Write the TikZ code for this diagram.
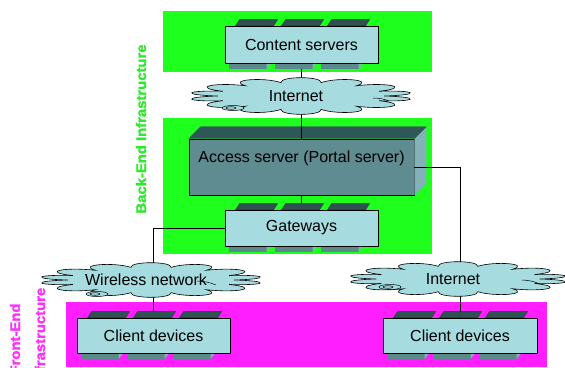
\documentclass[tikz,border=0pt]{standalone}
\usepackage{fontspec}
\setmainfont{Liberation Sans}
\newfontfamily\heavylabel[BoldFeatures={FakeBold=1.6}]{Liberation Sans}
\usetikzlibrary{calc}
\definecolor{grn}{HTML}{1EFF1E}
\definecolor{mag}{HTML}{FF1EFF}
\definecolor{boxfill}{HTML}{A6DCE0}
\definecolor{slabdark}{HTML}{2E5252}
\definecolor{slabgrey}{HTML}{5C8A8A}
\definecolor{slablight}{HTML}{86B4B4}
\definecolor{asfront}{HTML}{5F8C90}
\definecolor{astop}{HTML}{2F5757}
\definecolor{asside}{HTML}{82B2B8}
\definecolor{glabel}{HTML}{2EE82E}
\definecolor{mlabel}{HTML}{FF2EFF}
\tikzset{
  srvbox/.style={draw=black, line width=0.8pt, fill=boxfill, minimum width=153pt,
    minimum height=36pt, inner sep=0pt, font=\fontsize{16}{19}\selectfont},
  cloudtext/.style={inner sep=0pt, font=\fontsize{16}{19}\selectfont},
  cloudline/.style={draw=black, line width=0.6pt, fill=boxfill},
  link/.style={draw=black, line width=0.8pt},
  swirl/.style={draw=black, line width=0.5pt, fill=boxfill},
  vlabel/.style={rotate=90, inner sep=0pt, font=\heavylabel\fontsize{14}{15}\selectfont\bfseries}
}
\newcommand\slabdeco[1]{%
  \foreach \i in {0,1,2}{%
    \filldraw[fill=slabdark, draw=slabdark!60!black, line width=0.4pt]
      ($(#1.north west)+(11+46*\i,0)$) -- ++(4,-6) -- ++(38,0) -- ++(-4,6) -- cycle;
    \fill[slabgrey] ($(#1.south west)+(4+46*\i,0.5)$) rectangle ++(38,5);
    \fill[slablight] ($(#1.south west)+(42+46*\i,0.5)$) -- ++(4,0) -- ++(-4,5) -- cycle;
  }%
}
% cloud outline: center x, center y, half width, half height
\newcommand\cloudoutline[4]{%
  \begin{scope}[shift={(#1,#2)}, xscale=#3/1.04, yscale=#4/1.04]
    \path[cloudline] (0:0.8)
      \foreach \a/\b in {0/20,20/48,48/76,76/104,104/132,132/160,160/180,180/200,200/228,228/256,256/284,284/312,312/340,340/360}
        { .. controls ({\a+0.15*(\b-\a)}:1.17) and ({\b-0.15*(\b-\a)}:1.17) .. (\b:0.8) } -- cycle;
  \end{scope}%
}
\begin{document}
\begin{tikzpicture}[x=1pt,y=-1pt]
\useasboundingbox (0,0) rectangle (565,367);
\clip (0,0) rectangle (565,367);
\fill[white] (0,0) rectangle (565,367);
% zones
\fill[grn] (163,11) rectangle (432,72);
\fill[grn] (163,118) rectangle (432,254);
\fill[mag] (66,302) rectangle (547,367);
% vertical labels
\node[vlabel, text=glabel] (belabel) at (141,129) {\scalebox{1.06}[1]{Back-End Infrastructure}};
\node[vlabel, text=mlabel] (felabel1) at (15,339) {\scalebox{1.06}[1]{Front-End}};
\node[vlabel, text=mlabel] (felabel2) at (40,336) {\scalebox{1.06}[1]{Infrastructure}};
% boxes
\node[srvbox, minimum height=37pt] (cs) at (301.5,44.5) {Content servers};
\node[draw=black, line width=0.6pt, fill=asfront, minimum width=225pt, minimum height=56pt,
      inner sep=0pt, text depth=21pt, font=\fontsize{16}{19}\selectfont] (as) at (301.5,167)
      {Access server (Portal server)};
\fill[astop] (as.north west) -- ++(12,-12) -- ($(as.north east)+(12,-12)$) -- (as.north east) -- cycle;
\fill[asside] (as.north east) -- ++(12,-12) -- ($(as.south east)+(12,-12)$) -- (as.south east) -- cycle;
\draw[line width=0.4pt, astop] (as.north west) -- ++(12,-12) -- ($(as.north east)+(12,-12)$) -- (as.north east);
\node[srvbox] (gw) at (301.5,228) {Gateways};
\node[srvbox, minimum height=35pt] (cl) at (153.5,335.5) {Client devices};
\node[srvbox, minimum height=35pt, minimum width=154pt] (cr) at (460,335.5) {Client devices};
% connectors
\draw[link] (cs.south) -- (as.north);
\draw[link] (as.south) -- (gw.north);
\draw[link] (gw.west) -| (cl.north);
\draw[link] (as.east) -| (cr.north);
% slab decorations
\slabdeco{cs}
\slabdeco{gw}
\slabdeco{cl}
\slabdeco{cr}
% clouds
\cloudoutline{301}{96}{108}{18}
\cloudoutline{151}{280}{108}{17}
\cloudoutline{458}{279}{106}{17}
\node[cloudtext] (inet1) at (296,96) {Internet};
\node[cloudtext] (wl) at (146,280) {Wireless network};
\node[cloudtext] (inet2) at (453,279) {Internet};
\draw[swirl] (233,108) ellipse (11 and 2.5);
\draw[swirl] (231,108) ellipse (5 and 1.3);
\draw[swirl] (97,294) ellipse (11 and 2.5);
\draw[swirl] (95,294) ellipse (5 and 1.3);
\draw[swirl] (390,287) ellipse (11 and 2.5);
\draw[swirl] (388,287) ellipse (5 and 1.3);
\draw[line width=0.5pt] (373,98) to[bend left=10] (389,101);
\draw[line width=0.5pt] (197,281) to[bend left=10] (216,285);
\draw[line width=0.5pt] (522,280) to[bend left=10] (540,284);
\end{tikzpicture}
\end{document}
